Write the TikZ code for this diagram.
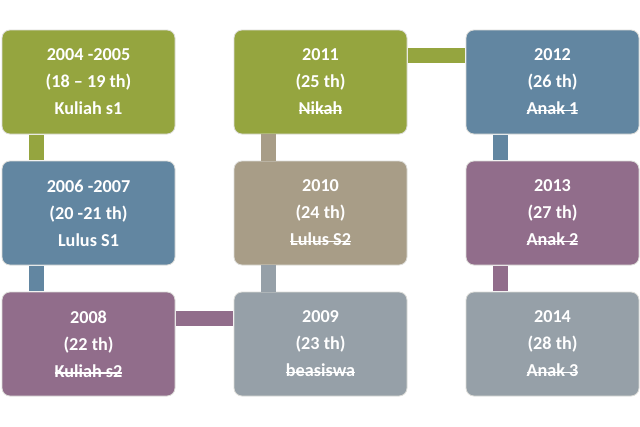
\documentclass[tikz,border=0pt]{standalone}
\usepackage{fontspec}
\setmainfont{Carlito}
\newcommand{\strk}[1]{\setbox0\hbox{#1}\rlap{\raisebox{0.2em}{\rule{\wd0}{1.4pt}}}\box0}
\definecolor{cgreen}{HTML}{95A53F}
\definecolor{cblue}{HTML}{6286A1}
\definecolor{ctan}{HTML}{A89D87}
\definecolor{cpurple}{HTML}{916D8B}
\definecolor{cgray}{HTML}{96A0A8}
\definecolor{cborder}{HTML}{DCDCD8}
\tikzset{
  box/.style={rectangle, rounded corners=8pt, minimum width=173pt, minimum height=104pt,
    draw=cborder, line width=0.8pt, text=white, inner sep=0pt, align=center,
    font=\bfseries\fontsize{18.2}{27}\selectfont},
}
\begin{document}
\begin{tikzpicture}[x=1pt,y=-1pt]
\useasboundingbox[fill=white] (0,0) rectangle (640,426);
\node[box, fill=cgreen]  (a) at (88.5,82)  {2004 -2005\\(18 -- 19 th)\\Kuliah s1};
\node[box, fill=cblue]   (b) at (88.5,213) {2006 -2007\\(20 -21 th)\\Lulus S1};
\node[box, fill=cpurple] (c) at (88.5,344) {2008\\(22 th)\\\strk{Kuliah s2}};
\node[box, fill=cgray]   (d) at (320.5,344) {2009\\(23 th)\\\strk{beasiswa}};
\node[box, fill=ctan]    (e) at (320.5,213) {2010\\(24 th)\\\strk{Lulus S2}};
\node[box, fill=cgreen]  (f) at (320.5,82) {2011\\(25 th)\\\strk{Nikah}};
\node[box, fill=cblue]   (g) at (552.5,82) {2012\\(26 th)\\\strk{Anak 1}};
\node[box, fill=cpurple] (h) at (552.5,213) {2013\\(27 th)\\\strk{Anak 2}};
\node[box, fill=cgray]   (i) at (552.5,344) {2014\\(28 th)\\\strk{Anak 3}};
% connectors
\fill[cgreen]  ([xshift=27.5pt,yshift=-0.4pt]a.south west) rectangle ([xshift=42.5pt,yshift=0.4pt]b.north west);
\fill[cblue]   ([xshift=27.5pt,yshift=-0.4pt]b.south west) rectangle ([xshift=42.5pt,yshift=0.4pt]c.north west);
\fill[cpurple] ([xshift=0.4pt,yshift=-19pt]c.north east) rectangle ([xshift=-0.4pt,yshift=-34pt]d.north west);
\fill[cgray]   ([xshift=27.5pt,yshift=-0.4pt]d.north west) rectangle ([xshift=42.5pt,yshift=0.4pt]e.south west);
\fill[ctan]    ([xshift=27.5pt,yshift=-0.4pt]e.north west) rectangle ([xshift=42.5pt,yshift=0.4pt]f.south west);
\fill[cgreen]  ([xshift=0.4pt,yshift=-18pt]f.north east) rectangle ([xshift=-0.4pt,yshift=-33pt]g.north west);
\fill[cblue]   ([xshift=27.5pt,yshift=-0.4pt]g.south west) rectangle ([xshift=42.5pt,yshift=0.4pt]h.north west);
\fill[cpurple] ([xshift=27.5pt,yshift=-0.4pt]h.south west) rectangle ([xshift=42.5pt,yshift=0.4pt]i.north west);
\end{tikzpicture}
\end{document}
